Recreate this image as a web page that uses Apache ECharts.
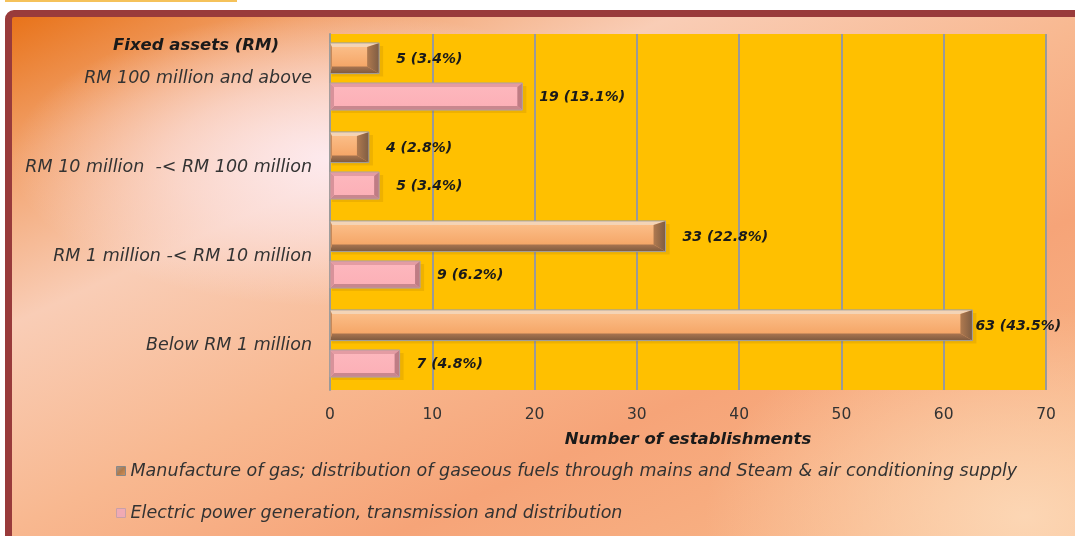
<!DOCTYPE html>
<html><head><meta charset="utf-8">
<script src="https://cdn.jsdelivr.net/npm/echarts@6/dist/echarts.min.js"></script>
<style>
html,body{margin:0;padding:0;width:1075px;height:536px;overflow:hidden;background:#fff;}
#topline{position:absolute;left:5px;top:0;width:232px;height:2px;background:#f5c25a;}
#frame{position:absolute;left:5px;top:10px;width:1080px;height:540px;box-sizing:border-box;border:7px solid #993b3b;border-top-left-radius:9px;
background:
 radial-gradient(ellipse 30% 28% at 30% 27%, rgba(253,234,238,1) 0%, rgba(253,230,232,0.6) 50%, rgba(253,230,232,0) 100%),
 radial-gradient(ellipse 30% 40% at 95% 95%, rgba(252,214,180,1) 0%, rgba(252,214,180,0) 100%),
 linear-gradient(155deg, #e8731a 0%, #f2a36e 14%, #f9cdb6 30%, #f8b890 50%, #f6a478 68%, #f9bb8c 100%);}
#chart{position:absolute;left:0;top:0;width:1075px;height:536px;}
</style></head>
<body>
<div id="topline"></div>
<div id="frame"></div>
<div id="chart"></div>
<script>
const categories = ['RM 100 million and above', 'RM 10 million  -< RM 100 million', 'RM 1 million -< RM 10 million', 'Below RM 1 million'];
const gasValues = [5, 4, 33, 63];
const gasPct = [3.4, 2.8, 22.8, 43.5];
const elecValues = [19, 5, 9, 7];
const elecPct = [13.1, 3.4, 6.2, 4.8];
const xTicks = [0, 10, 20, 30, 40, 50, 60, 70];
const seriesNames = ['Manufacture of gas; distribution of gaseous fuels through mains and Steam & air conditioning supply', 'Electric power generation, transmission and distribution'];

const FONT = 'DejaVu Sans';
const chart = echarts.init(document.getElementById('chart'));

const LG = (x0, y0, x1, y1, a, b) => new echarts.graphic.LinearGradient(x0, y0, x1, y1, [{offset: 0, color: a}, {offset: 1, color: b}]);
// bar looks
const looks = [
  {from: -0.40, to: -0.055, bt: 4, bb: 7, bl: 2, br: 12,
   center: LG(0, 0, 0, 1, '#fcc28e', '#f39e5c'), top: '#f4d4b6', bottom: LG(0, 0, 0, 1, '#a87450', '#7e5a3e'),
   left: '#c88a5a', right: LG(0, 0, 1, 0, '#b07a50', '#7e5c42'), stroke: '#a0a0a0'},
  {from: 0.05, to: 0.355, bt: 4, bb: 4, bl: 4, br: 5,
   center: LG(0, 0, 0, 1, '#fdb8be', '#fcafb6'), top: '#e49ca3', bottom: '#c9878e',
   left: '#d8929a', right: '#bf7c84', stroke: '#b0a0a0'}
];

function makeRender(k) {
  return function (params, api) {
    const L = looks[k];
    const v = api.value(0), ci = api.value(1), pct = api.value(2);
    const c0 = api.coord([0, ci]);
    const c1 = api.coord([v, ci]);
    const band = api.size([0, 1])[1];
    const x0 = c0[0], x1 = c1[0] - 2;
    const y0 = c0[1] + L.from * band, y1 = c0[1] + L.to * band;
    const poly = (pts, fill) => ({type: 'polygon', shape: {points: pts}, style: {fill: fill}});
    return {type: 'group', children: [
      {type: 'rect', shape: {x: x0 + 2, y: y0 + 3, width: x1 - x0 + 2, height: y1 - y0}, style: {fill: 'rgba(150,100,0,0.16)'}},
      {type: 'rect', shape: {x: x0, y: y0, width: x1 - x0, height: y1 - y0}, style: {fill: L.center}},
      poly([[x0, y0], [x1, y0], [x1 - L.br, y0 + L.bt], [x0 + L.bl, y0 + L.bt]], L.top),
      poly([[x0, y1], [x1, y1], [x1 - L.br, y1 - L.bb], [x0 + L.bl, y1 - L.bb]], L.bottom),
      poly([[x0, y0], [x0 + L.bl, y0 + L.bt], [x0 + L.bl, y1 - L.bb], [x0, y1]], L.left),
      poly([[x1, y0], [x1 - L.br, y0 + L.bt], [x1 - L.br, y1 - L.bb], [x1, y1]], L.right),
      {type: 'rect', shape: {x: x0, y: y0, width: x1 - x0, height: y1 - y0}, style: {fill: 'none', stroke: L.stroke, lineWidth: 1}},
      {type: 'text', x: x1 + (v >= 60 ? 3 : 17), y: (y0 + y1) / 2 + 1,
        style: {text: v + ' (' + pct.toFixed(1) + '%)', fill: '#1a1a1a', font: 'italic bold 14px "' + FONT + '"', verticalAlign: 'middle', align: 'left'}}
    ]};
  };
}

function seriesData(vals, pcts) { return vals.map((v, i) => [v, i, pcts[i]]); }

chart.setOption({
  backgroundColor: 'transparent',
  animation: false,
  title: {text: 'Fixed assets (RM)', left: 108, top: 32, textStyle: {fontFamily: FONT, fontStyle: 'italic', fontWeight: 'bold', fontSize: 16.5, color: '#1a1a1a'}},
  grid: {left: 330, right: 29, top: 34, bottom: 146, containLabel: false, show: true, backgroundColor: '#ffc000', borderWidth: 0},
  legend: {orient: 'vertical', left: 111, top: 457, itemGap: 24, itemWidth: 9, itemHeight: 9,
    textStyle: {fontFamily: FONT, fontStyle: 'italic', fontSize: 17.5, color: '#333'},
    data: [{name: seriesNames[0], icon: 'rect', itemStyle: {color: new echarts.graphic.LinearGradient(0, 0, 1, 1, [{offset: 0, color: '#9a9aa0'}, {offset: 0.5, color: '#b07a4a'}, {offset: 1, color: '#d8945a'}]), borderColor: '#888', borderWidth: 1}},
           {name: seriesNames[1], icon: 'rect', itemStyle: {color: '#f0aab4', borderColor: '#c8a0a8', borderWidth: 1}}]},
  xAxis: {type: 'value', min: 0, max: 70, interval: 10,
    name: 'Number of establishments', nameLocation: 'middle', nameGap: 41,
    nameTextStyle: {fontFamily: FONT, fontStyle: 'italic', fontWeight: 'bold', fontSize: 16.5, color: '#1a1a1a'},
    axisLine: {show: false}, axisTick: {show: false},
    axisLabel: {margin: 17, fontFamily: FONT, fontSize: 15.5, color: '#333', formatter: v => xTicks.includes(v) ? String(v) : ''},
    splitLine: {show: true, lineStyle: {color: '#9a9a9a', width: 2}}},
  yAxis: {type: 'category', data: categories, inverse: true,
    axisLine: {show: true, lineStyle: {color: '#9a9a9a', width: 2}}, axisTick: {show: false},
    axisLabel: {margin: 18, fontFamily: FONT, fontStyle: 'italic', fontSize: 17.5, color: '#333'}},
  series: [
    {name: seriesNames[0], type: 'custom', renderItem: makeRender(0), data: seriesData(gasValues, gasPct), encode: {x: 0, y: 1}, itemStyle: {color: '#b07a4a'}, z: 3},
    {name: seriesNames[1], type: 'custom', renderItem: makeRender(1), data: seriesData(elecValues, elecPct), encode: {x: 0, y: 1}, itemStyle: {color: '#f0aab4'}, z: 3}
  ]
});
</script>
</body></html>
